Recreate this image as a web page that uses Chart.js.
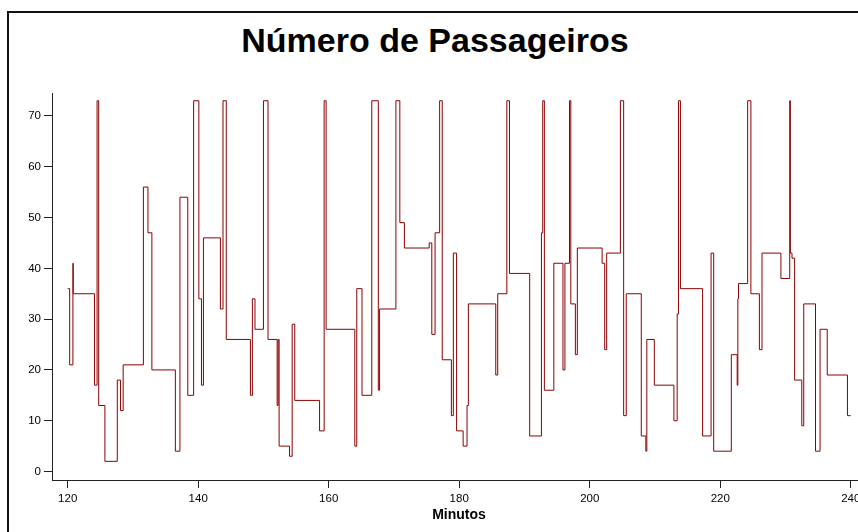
<!DOCTYPE html>
<html>
<head>
<meta charset="utf-8">
<script src="https://cdn.jsdelivr.net/npm/chart.js@4"></script>
<style>
  html, body { margin: 0; padding: 0; background: #fff; width: 858px; height: 532px; overflow: hidden; }
  #frame { position: absolute; left: 7px; top: 11px; width: 900px; height: 600px; border: 2px solid #111; box-sizing: border-box; }
  #title { position: absolute; left: 0; width: 870px; top: 23px; text-align: center; font: bold 34px/34px "Liberation Sans", Arial, sans-serif; color: #000; }
  #chart { position: absolute; left: 0; top: 0; }
</style>
</head>
<body>
<div id="frame"></div>
<div id="title">Número de Passageiros</div>
<canvas id="chart" width="866" height="532"></canvas>
<script>
// each value holds from its minute until the next one (step line)
const minutes = [
  120.0, 120.3, 120.8, 120.85, 124.1, 124.5, 124.75, 125.7, 127.6, 128.1,
  128.5, 131.6, 132.3, 132.9, 136.5, 137.2, 138.4, 139.3, 140.1, 140.5,
  140.8, 143.4, 143.8, 144.3, 148.0, 148.3, 148.7, 150.0, 150.7, 152.1,
  152.25, 152.4, 154.0, 154.4, 154.8, 158.6, 159.3, 159.6, 164.0, 164.3,
  165.1, 166.6, 167.6, 167.8, 170.3, 170.9, 171.6, 175.4, 175.8, 176.3,
  177.0, 177.4, 178.8, 179.1, 179.6, 180.6, 181.2, 181.4, 185.6, 185.9,
  187.3, 187.7, 190.8, 192.6, 192.8, 193.05, 194.5, 195.9, 196.2, 196.9,
  197.1, 197.8, 198.1, 201.9, 202.3, 202.6, 204.7, 205.2, 205.6, 207.9,
  208.6, 208.75, 209.9, 212.9, 213.4, 213.6, 213.9, 217.3, 218.6, 219.0,
  221.7, 222.6, 222.7, 222.8, 224.2, 224.7, 226.0, 226.4, 229.3, 230.65,
  230.75, 231.0, 231.4, 232.5, 232.8, 234.6, 235.3, 236.4, 239.5, 240.0
];
const passengers = [
  36, 21, 41, 35, 17, 73, 13, 2, 18, 12,
  21, 56, 47, 20, 4, 54, 15, 73, 34, 17,
  46, 32, 73, 26, 15, 34, 28, 73, 26, 13,
  26, 5, 3, 29, 14, 8, 73, 28, 5, 36,
  15, 73, 16, 32, 73, 49, 44, 45, 27, 47,
  73, 22, 11, 43, 8, 5, 13, 33, 19, 35,
  73, 39, 7, 47, 73, 16, 41, 20, 41, 73,
  33, 23, 44, 41, 24, 43, 73, 11, 35, 7,
  4, 26, 17, 10, 31, 73, 36, 7, 43, 4,
  23, 17, 34, 37, 73, 35, 24, 43, 38, 73,
  43, 42, 18, 9, 33, 4, 28, 19, 11, 11
];
const xTicks = [120, 140, 160, 180, 200, 220, 240];
const yTicks = [0, 10, 20, 30, 40, 50, 60, 70];

const points = minutes.map((m, i) => ({ x: m, y: passengers[i] }));

const axisColor = '#222';
const tickFont = { family: 'Liberation Sans', size: 11.5 };

new Chart(document.getElementById('chart'), {
  type: 'line',
  data: {
    datasets: [{
      data: points,
      borderColor: '#8b0000',
      borderWidth: 1,
      pointRadius: 0,
      stepped: true,
      fill: false
    }]
  },
  options: {
    responsive: false,
    animation: false,
    devicePixelRatio: 1,
    layout: { padding: { top: 93, left: 0, right: 0, bottom: 0 } },
    plugins: { legend: { display: false }, tooltip: { enabled: false } },
    scales: {
      x: {
        type: 'linear',
        min: 117.594,
        max: 242.34,
        afterBuildTicks: s => { s.ticks = xTicks.map(v => ({ value: v })); },
        afterFit: s => { s.height = 52; },
        grid: { drawOnChartArea: false, tickLength: 8, color: axisColor, tickColor: axisColor },
        border: { color: axisColor, width: 1 },
        ticks: { font: tickFont, color: '#000', padding: 4, maxRotation: 0, autoSkip: false },
        title: {
          display: true,
          text: 'Minutos',
          font: { family: 'Liberation Sans', weight: 'bold', size: 14 },
          color: '#000',
          padding: { top: 0, bottom: 8 }
        }
      },
      y: {
        min: -1.67,
        max: 74.52,
        afterBuildTicks: s => { s.ticks = yTicks.map(v => ({ value: v })); },
        afterFit: s => { s.width = 52; },
        grid: { drawOnChartArea: false, tickLength: 8, color: axisColor, tickColor: axisColor },
        border: { color: axisColor, width: 1 },
        ticks: { font: tickFont, color: '#000', padding: 3 }
      }
    }
  }
});
</script>
</body>
</html>
